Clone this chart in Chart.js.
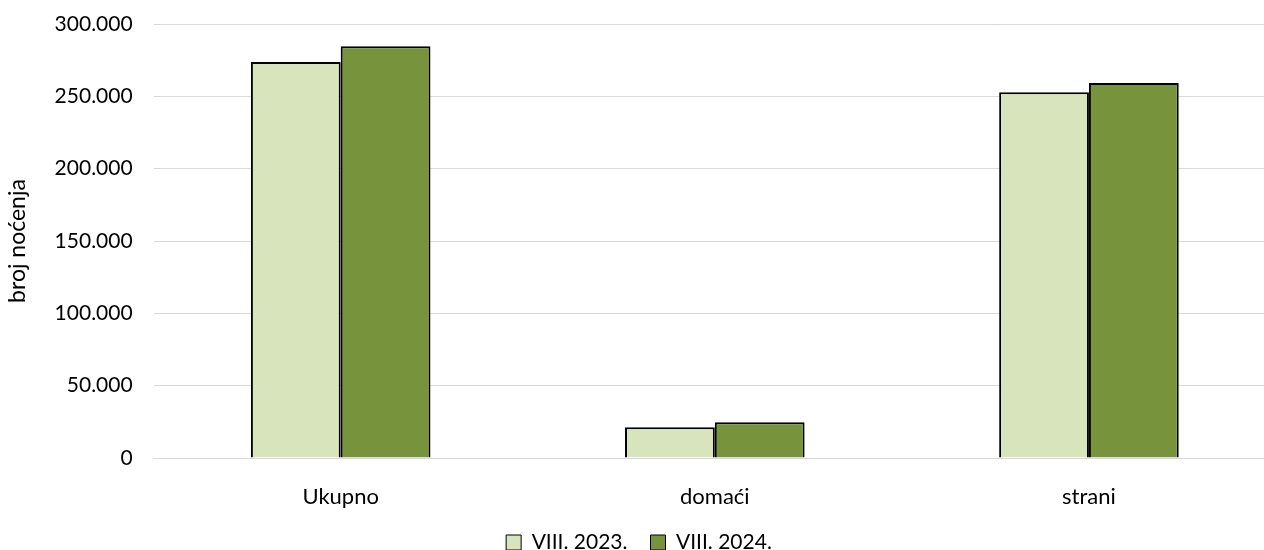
<!DOCTYPE html>
<html>
<head>
<meta charset="utf-8">
<script src="https://cdn.jsdelivr.net/npm/chart.js@4"></script>
<style>
  html, body { margin: 0; padding: 0; background: #fff; overflow: hidden; }
  #wrap { width: 1276px; height: 550px; }
</style>
</head>
<body>
<div id="wrap"><canvas id="myChart"></canvas></div>
<script>
var categories = ["Ukupno", "domaći", "strani"];
var seriesNames = ["VIII. 2023.", "VIII. 2024."];
var values2023 = [273700, 21200, 252800];
var values2024 = [284600, 24700, 259200];
var barColors = ["#d8e4bc", "#77933c"];

var fontFamily = "Lato, 'Open Sans', sans-serif";

const barChart = () => {
    new Chart("myChart", {
        type: "bar",
        data: {
            labels: categories,
            datasets: [{
                label: seriesNames[0],
                data: values2023,
                backgroundColor: barColors[0],
                borderColor: "#000",
                borderWidth: 2,
                barPercentage: 1,
                categoryPercentage: 0.48
            }, {
                label: seriesNames[1],
                data: values2024,
                backgroundColor: barColors[1],
                borderColor: "#000",
                borderWidth: 2,
                barPercentage: 1,
                categoryPercentage: 0.48
            }]
        },
        options: {
            responsive: true,
            maintainAspectRatio: false,
            animation: false,
            layout: { padding: { top: 24, left: 2, right: 0, bottom: -13 } },
            plugins: {
                legend: {
                    position: "bottom",
                    labels: {
                        color: "#000",
                        font: { family: fontFamily, size: 21 },
                        boxWidth: 15,
                        boxHeight: 15,
                        padding: 23,
                        generateLabels: function (chart) {
                            return chart.data.datasets.map(function (ds, i) {
                                return {
                                    text: ds.label,
                                    fillStyle: ds.backgroundColor,
                                    strokeStyle: "#000",
                                    lineWidth: 1,
                                    fontColor: "#000",
                                    datasetIndex: i
                                };
                            });
                        }
                    }
                },
                tooltip: { enabled: false }
            },
            scales: {
                x: {
                    grid: { display: false, drawTicks: false },
                    border: { color: "#d9d9d9", width: 1 },
                    ticks: {
                        color: "#000",
                        padding: 26,
                        font: { family: fontFamily, size: 22 }
                    },
                    afterFit: function (scale) {
                        // keep the padding only once above the labels
                        scale.height = 51;
                    }
                },
                y: {
                    min: 0,
                    max: 300000,
                    grid: { color: "#d9d9d9", lineWidth: 1, drawTicks: false },
                    border: { display: false },
                    ticks: {
                        stepSize: 50000,
                        padding: 21,
                        color: "#000",
                        font: { family: fontFamily, size: 21 },
                        callback: function (v) {
                            return v.toLocaleString("de-DE");
                        }
                    },
                    title: {
                        display: true,
                        text: "broj noćenja",
                        color: "#000",
                        font: { family: fontFamily, size: 23 },
                        padding: { top: 2, bottom: 2 }
                    },
                    afterFit: function (scale) {
                        scale.paddingTop = 0;
                        scale.paddingBottom = 0;
                    }
                }
            }
        }
    });
};

barChart();
</script>
</body>
</html>
